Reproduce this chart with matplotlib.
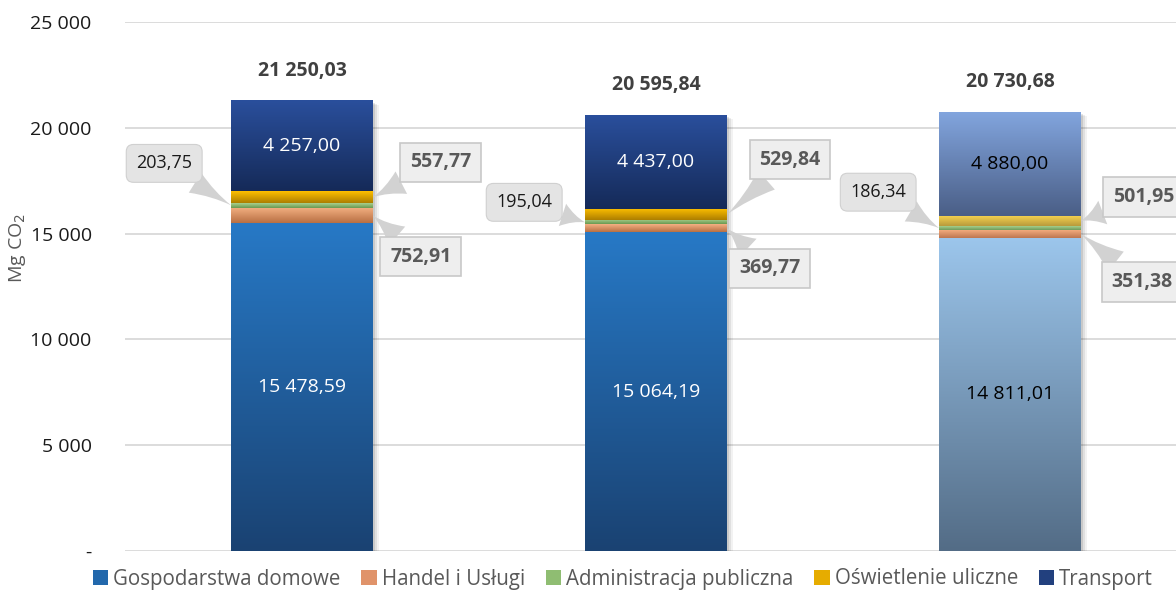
import numpy as np
import matplotlib
matplotlib.use("Agg")
import matplotlib.pyplot as plt
from matplotlib.patches import Patch
from matplotlib.colors import to_rgb
import matplotlib.transforms as mtransforms

# ---------------- data ----------------
series = ["Gospodarstwa domowe", "Handel i Usługi", "Administracja publiczna",
          "Oświetlenie uliczne", "Transport"]
gospodarstwa = [15478.59, 15064.19, 14811.01]
handel = [752.91, 369.77, 351.38]
administracja = [203.75, 195.04, 186.34]
oswietlenie = [557.77, 529.84, 501.95]
transport = [4257.00, 4437.00, 4880.00]
totals = [21250.03, 20595.84, 20730.68]
yticks = [0, 5000, 10000, 15000, 20000, 25000]
ytick_labels = ["-", "5 000", "10 000", "15 000", "20 000", "25 000"]

values = [gospodarstwa, handel, administracja, oswietlenie, transport]

# ---------------- style ----------------
FONT = ["Open Sans", "DejaVu Sans"]
plt.rcParams["font.family"] = FONT

# (top, bottom) gradient colours, normal bars and the lighter third bar
grad_dark = [("#2779c6", "#1a4272"),
             ("#f4b183", "#b86f42"),
             ("#a9d18e", "#6a9850"),
             ("#ffc000", "#ac7e00"),
             ("#2a4f9c", "#152a58")]
grad_light = [("#9cc6ec", "#536c86"),
              ("#f2aa7c", "#bd7650"),
              ("#a6d08c", "#6f9a5a"),
              ("#f8d450", "#b89a3c"),
              ("#82a5de", "#4a5e86")]
legend_colors = ["#2268ac", "#e0936a", "#8fbd72", "#e6ac00", "#22407e"]


def fmt(v):
    s = f"{v:,.2f}"
    return s.replace(",", " ").replace(".", ",")


fig = plt.figure(figsize=(11.76, 5.91), dpi=100)
ax = fig.add_axes([125 / 1176, 40 / 591, 1062 / 1176, 529 / 591])
x = np.arange(len(totals))
width = 0.40

# shadows
for dx, dy, a in [(2, -2, 0.10), (4, -3, 0.07), (6, -4, 0.05)]:
    sh = ax.bar(x, totals, width, color="black", alpha=a, zorder=1, linewidth=0)
    off = mtransforms.ScaledTranslation(dx / 100, dy / 100, fig.dpi_scale_trans)
    for p in sh:
        p.set_transform(ax.transData + off)

bottom = np.zeros(len(totals))
for i, vals in enumerate(values):
    bars = ax.bar(x, vals, width, bottom=bottom, color=legend_colors[i],
                  zorder=2, linewidth=0)
    for j, p in enumerate(bars):
        top_c, bot_c = (grad_light if j == 2 else grad_dark)[i]
        t = np.linspace(0, 1, 256)[:, None]
        c0 = np.array(to_rgb(bot_c))
        c1 = np.array(to_rgb(top_c))
        img = (c0[None, None, :] * (1 - t[..., None]) + c1[None, None, :] * t[..., None])
        x0, y0 = p.get_x(), p.get_y()
        ax.imshow(img, extent=[x0, x0 + p.get_width(), y0, y0 + p.get_height()],
                  origin="lower", aspect="auto", zorder=3, interpolation="bilinear")
    bottom = bottom + np.array(vals)

ax.set_xlim(-0.5, 2.5)
ax.set_ylim(0, 25000)
ax.set_yticks(yticks)
ax.set_yticklabels(ytick_labels, fontsize=14, color="#1a1a1a")
ax.set_xticks([])
ax.tick_params(axis="y", length=0, pad=24)
ax.grid(axis="y", color="#d9d9d9", linewidth=1.3, zorder=0)
ax.set_axisbelow(True)
for s in ax.spines.values():
    s.set_visible(False)

# inner labels (Gospodarstwa & Transport)
cum = np.zeros(len(totals))
mids = []
for vals in values:
    mids.append(cum + np.array(vals) / 2)
    cum = cum + np.array(vals)
for j in range(len(totals)):
    col = "black" if j == 2 else "white"
    ax.text(x[j], mids[0][j], fmt(gospodarstwa[j]), ha="center", va="center",
            fontsize=14, color=col, zorder=5)
    ax.text(x[j], mids[4][j], fmt(transport[j]), ha="center", va="center",
            fontsize=14, color=col, zorder=5)
    ax.annotate(fmt(totals[j]), (x[j], totals[j]), xytext=(0, 30),
                textcoords="offset pixels", ha="center", va="center",
                fontsize=14, fontweight="bold", color="#404040", zorder=5)

# callouts
adm_off = [(-67, 42), (-61, 20), (-61, 36)]
osw_off = [(68, 35), (63, 55), (63, 24)]
han_off = [(48, -41), (43, -40), (61, -48)]
tail = dict(arrowstyle="wedge,tail_width=1.3,shrink_factor=0.35",
            fc="#d2d2d2", ec="none", shrinkA=0, shrinkB=0)
for j in range(len(totals)):
    left = x[j] - width / 2
    right = x[j] + width / 2
    ax.annotate(fmt(administracja[j]), (left, mids[2][j]), xytext=adm_off[j],
                textcoords="offset pixels", ha="center", va="center",
                fontsize=13, color="#1a1a1a", zorder=6,
                bbox=dict(boxstyle="round,pad=0.55,rounding_size=0.4",
                          fc="#e4e4e4", ec="#d0d0d0", lw=0.8),
                arrowprops=tail)
    for vals, offs, idx in ((oswietlenie, osw_off, 3), (handel, han_off, 1)):
        ax.annotate(fmt(vals[j]), (right, mids[idx][j]), xytext=offs[j],
                    textcoords="offset pixels", ha="center", va="center",
                    fontsize=14, fontweight="bold", color="#595959", zorder=6,
                    bbox=dict(boxstyle="square,pad=0.5",
                              fc="#eeeeee", ec="#c8c8c8", lw=1.2),
                    arrowprops=tail)

fig.text(18 / 1176, 1 - 248 / 591, "Mg CO$_2$", rotation=90, ha="center",
         va="center", fontsize=14, color="#595959")

handles = [Patch(facecolor=c, edgecolor="none") for c in legend_colors]
fig.legend(handles, series, loc="center", bbox_to_anchor=(623 / 1176, 1 - 579 / 591),
           ncol=5, frameon=False, handlelength=0.75, handleheight=0.75,
           handletextpad=0.25, columnspacing=1.0,
           prop=dict(family=["Open Sans"], size=14.8),
           labelcolor="#595959")

fig.savefig("out.png", dpi=100)
